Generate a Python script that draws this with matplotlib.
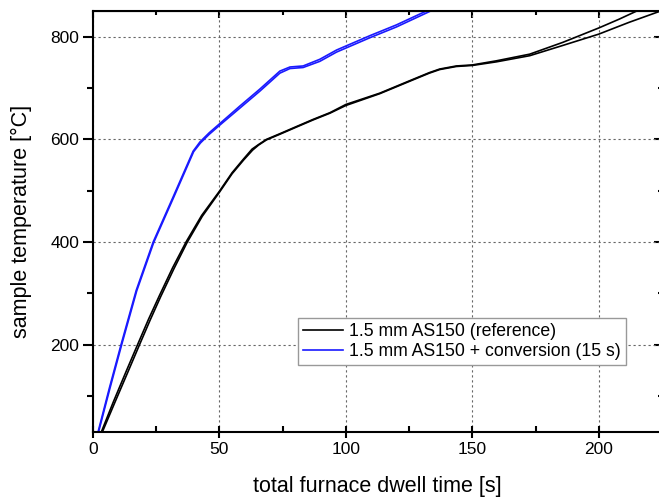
import matplotlib
matplotlib.use("Agg")
import matplotlib.pyplot as plt
from matplotlib.ticker import MultipleLocator

plt.rcParams['font.family'] = ['Liberation Sans', 'DejaVu Sans']

# reference sample, two runs (s, degC)
black_a_x = [3.3, 8.0, 13.2, 17.8, 22.0, 26.3, 31.5, 36.9, 43.0, 50.0, 55.0, 59.4, 62.9,
             65.5, 68.6, 73.9, 80.0, 87.1, 93.7, 100, 113.4, 126.6, 133.0, 137.1, 143.7,
             150, 159.5, 172.7, 185.8, 200, 208, 215]
black_a_y = [30, 88, 149, 202, 250, 296, 350, 401, 452, 499, 535, 561, 581,
             590, 600, 611, 624, 639, 652, 668, 690, 717, 730, 737, 743,
             745, 753, 766, 789, 817, 834, 850]
black_b_x = [3.7, 8.6, 13.9, 18.4, 22.6, 26.8, 32.0, 37.2, 43.2, 50.0, 55.0, 59.6, 63.1,
             65.5, 68.6, 73.9, 80.0, 87.1, 93.7, 100, 113.4, 126.6, 133.0, 137.1, 143.7,
             150, 159.5, 172.7, 185.8, 200, 212, 225]
black_b_y = [30, 87, 148, 200, 248, 294, 348, 399, 450, 497, 533, 560, 579,
             589, 599, 610, 623, 638, 651, 666, 689, 716, 729, 736, 742,
             744, 751, 763, 783, 805, 828, 851]

# with conversion (15 s), two runs
blue_a_x = [2.0, 6.5, 11.2, 17.1, 23.8, 31.7, 39.6, 42.3, 46.0, 50.2, 58.1, 66.0,
            73.9, 77.9, 83.1, 89.7, 96.3, 109.5, 120, 131.8]
blue_a_y = [30, 116, 202, 306, 400, 488, 577, 595, 613, 631, 665, 698,
            733, 741, 743, 756, 774, 802, 823, 850]
blue_b_x = [2.2, 6.7, 11.4, 17.3, 24.0, 31.9, 39.8, 42.5, 46.0, 50.2, 58.1, 66.0,
            73.9, 77.9, 83.1, 89.7, 96.3, 109.5, 120, 133.5]
blue_b_y = [30, 115, 201, 305, 399, 487, 576, 593, 610, 628, 661, 694,
            729, 738, 740, 752, 770, 798, 819, 850]

fig = plt.figure(figsize=(6.59, 4.97), dpi=100)
ax = fig.add_axes([0.1411, 0.1308, 0.8634, 0.847])

ax.plot(black_a_x, black_a_y, color='black', lw=1.2, label='1.5 mm AS150 (reference)')
ax.plot(black_b_x, black_b_y, color='black', lw=1.2)
ax.plot(blue_a_x, blue_a_y, color='#1a1aff', lw=1.2, label='1.5 mm AS150 + conversion (15 s)')
ax.plot(blue_b_x, blue_b_y, color='#1a1aff', lw=1.2)

ax.set_xlim(0, 225)
ax.set_ylim(30, 850)
ax.xaxis.set_major_locator(MultipleLocator(50))
ax.xaxis.set_minor_locator(MultipleLocator(25))
ax.yaxis.set_major_locator(MultipleLocator(200))
ax.yaxis.set_minor_locator(MultipleLocator(100))

ax.grid(True, which='major', color='#666666', linestyle=(0, (2, 2.5)), linewidth=0.8)

for s in ax.spines.values():
    s.set_linewidth(1.5)

ax.tick_params(axis='x', which='major', direction='inout', length=8, width=1.5,
               labelsize=12.5, pad=3)
ax.tick_params(axis='x', which='minor', direction='in', length=4, width=1.5)
ax.tick_params(axis='y', which='major', direction='out', length=7, width=1.5,
               labelsize=12.5, pad=3)
ax.tick_params(axis='y', which='minor', direction='out', length=4, width=1.5)

# inward ticks on the top and right edges
top = ax.secondary_xaxis('top')
top.xaxis.set_major_locator(MultipleLocator(50))
top.xaxis.set_minor_locator(MultipleLocator(25))
top.tick_params(which='major', direction='in', length=5, width=1.5, labeltop=False)
top.tick_params(which='minor', direction='in', length=3, width=1.5)
right = ax.secondary_yaxis('right')
right.yaxis.set_major_locator(MultipleLocator(200))
right.yaxis.set_minor_locator(MultipleLocator(100))
right.tick_params(which='major', direction='in', length=6, width=1.5, labelright=False)
right.tick_params(which='minor', direction='in', length=3, width=1.5)

ax.set_xlabel('total furnace dwell time [s]', fontsize=15.5, labelpad=14)
ax.set_ylabel('sample temperature [°C]', fontsize=15.5, labelpad=13)

ax.legend(loc='upper left', bbox_to_anchor=(0.452, 0.36), bbox_transform=fig.transFigure,
          borderaxespad=0, fancybox=False, edgecolor='#999999', framealpha=1,
          fontsize=12.7, handlelength=2.3, handletextpad=0.33, labelspacing=0.17,
          borderpad=0.27)

fig.savefig('out.png', dpi=100)
